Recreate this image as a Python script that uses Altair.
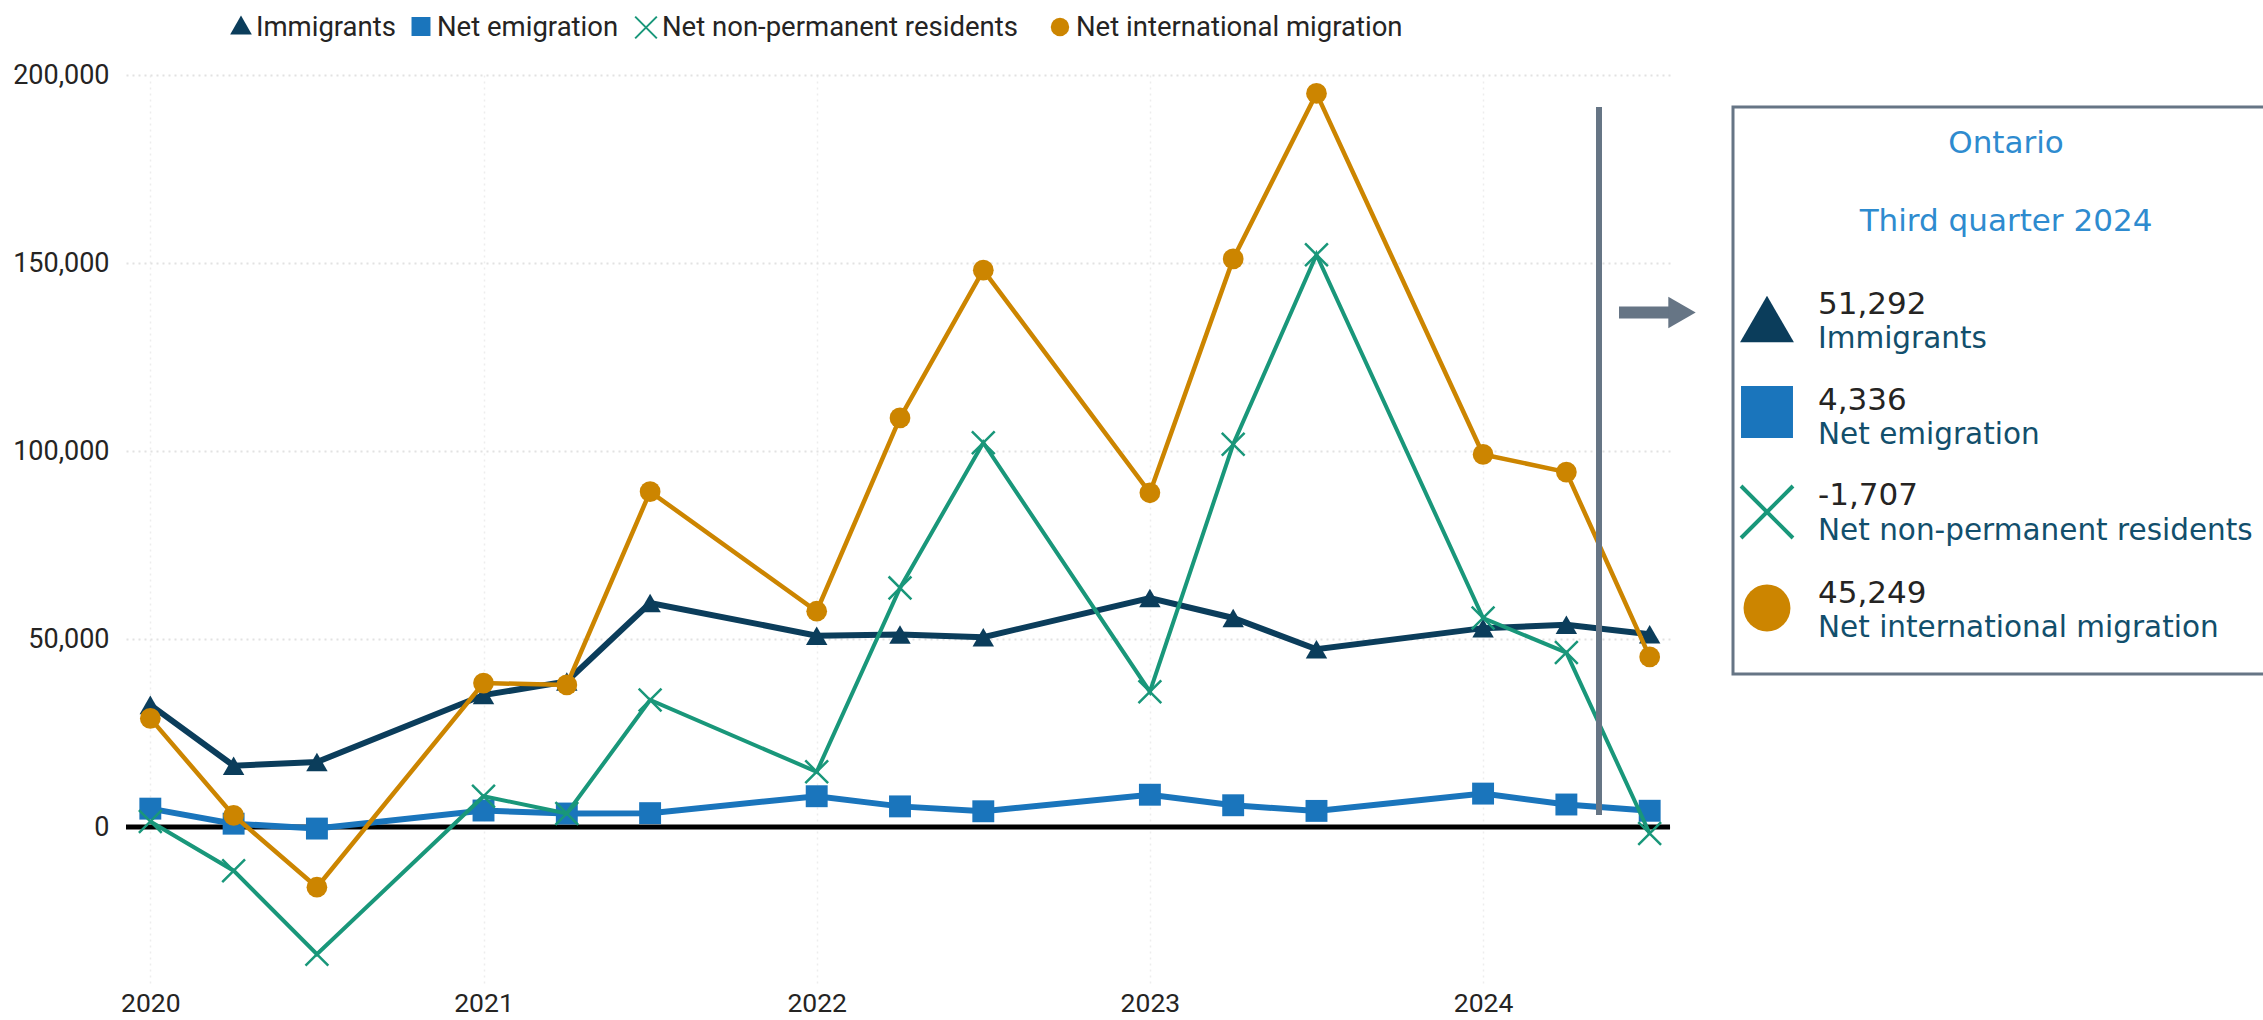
import altair as alt
import pandas as pd

# ---------------- data ----------------
years = [2020, 2020, 2020, 2021, 2021, 2021, 2022, 2022, 2022, 2023, 2023, 2023, 2024, 2024, 2024]
quarters = [1, 2, 3, 1, 2, 3, 1, 2, 3, 1, 2, 3, 1, 2, 3]
year_ticks = [2020, 2021, 2022, 2023, 2024]
y_ticks = [0, 50000, 100000, 150000, 200000]

series_names = ["Immigrants", "Net emigration", "Net non-permanent residents", "Net international migration"]
immigrants = [32500, 16300, 17300, 35100, 38700, 59600, 50900, 51200, 50500, 60900, 55600, 47300, 52900, 53800, 51292]
net_emigration = [4900, 900, -400, 4400, 3600, 3700, 8200, 5500, 4200, 8600, 5800, 4300, 8900, 6000, 4336]
net_npr = [1500, -11600, -33800, 8200, 3600, 33800, 14700, 63600, 102200, 36000, 101800, 152200, 55600, 46400, -1707]
net_intl_migration = [28900, 3100, -16000, 38300, 37800, 89200, 57400, 108800, 148100, 88900, 151100, 195100, 99100, 94400, 45249]

box_title = "Ontario"
box_subtitle = "Third quarter 2024"
latest_values = ["51,292", "4,336", "-1,707", "45,249"]

# ---------------- style ----------------
FONT = "Roboto"
BOX_FONT = "DejaVu Sans"
TXT = "#252423"
C_IMM = "#0B3D5B"
C_EMI = "#1A75BC"
C_NPR = "#19977A"
C_NIM = "#CC8500"
C_GREY = "#667585"
C_BOX_TITLE = "#2E8BCF"
C_BOX_LABEL = "#124F6C"
XSHAPE = "M-1,-1L1,1M-1,1L1,-1"

W, H = 1544, 910

t = [y + (q - 1) / 4 for y, q in zip(years, quarters)]

X = alt.X(
    "t:Q",
    scale=alt.Scale(domain=[2019.927, 2024.561], nice=False, zero=False),
    axis=alt.Axis(
        values=year_ticks, format="d", title=None, domain=False, ticks=False,
        grid=True, gridColor="#EDEDED", gridDash=[2, 4], gridWidth=1.5,
        labelFont=FONT, labelFontSize=26.5, labelColor=TXT, labelPadding=5,
    ),
)
Y = alt.Y(
    "v:Q",
    scale=alt.Scale(domain=[-42000, 200000], nice=False, zero=False),
    axis=alt.Axis(
        values=y_ticks, format=",d", title=None, domain=False, ticks=False,
        grid=True, gridColor="#E2E2E2", gridDash=[2, 4], gridWidth=2,
        labelFont=FONT, labelFontSize=27, labelColor=TXT, labelPadding=17,
    ),
)

layers = []

# zero line
zero_df = pd.DataFrame({"v": [0]})
layers.append(
    alt.Chart(zero_df).mark_rule(color="#000000", strokeWidth=5).encode(
        y=Y, x=alt.value(0), x2=alt.value(W)
    )
)

spec = [
    ("Immigrants", immigrants, C_IMM, 6, "triangle-up", 460, True, 0),
    ("Net emigration", net_emigration, C_EMI, 6, "square", 480, True, 0),
    ("Net international migration", net_intl_migration, C_NIM, 4.5, "circle", 430, True, 0),
    ("Net non-permanent residents", net_npr, C_NPR, 4, XSHAPE, 520, False, 2.5),
]
for name, vals, col, lw, shape, size, filled, sw in spec:
    df = pd.DataFrame({"t": t, "v": vals, "s": name})
    base = alt.Chart(df).encode(x=X, y=Y)
    layers.append(base.mark_line(color=col, strokeWidth=lw))
    if filled:
        layers.append(base.mark_point(shape=shape, size=size, filled=True, color=col, opacity=1, strokeWidth=0))
    else:
        layers.append(base.mark_point(shape=shape, size=size, filled=False, color=col, opacity=1, strokeWidth=sw))

one = pd.DataFrame({"a": [0]})


def txt(x, y, text, size, color, align="left", baseline="alphabetic", font=FONT):
    return alt.Chart(one).mark_text(
        text=text, align=align, baseline=baseline, font=font, fontSize=size, color=color
    ).encode(x=alt.value(x), y=alt.value(y))


def sym(x, y, shape, size, color, filled=True, sw=0):
    return alt.Chart(one).mark_point(
        shape=shape, size=size, filled=filled, color=color, opacity=1, strokeWidth=sw
    ).encode(x=alt.value(x), y=alt.value(y))


# top legend
leg_y = -39
legend_items = [
    (115, -50, 130, "triangle-up", 470, C_IMM, True, 0),
    (295, -48.5, 311, "square", 360, C_EMI, True, 0),
    (520, -47.5, 536, XSHAPE, 470, C_NPR, False, 2),
    (934, -48, 950, "circle", 340, C_NIM, True, 0),
]
for (sx, sy, tx, shape, size, col, filled, sw), name in zip(legend_items, series_names):
    layers.append(sym(sx, sy, shape, size, col, filled, sw))
    layers.append(txt(tx, leg_y, name, 27.5, TXT))

# vertical marker line and arrow
layers.append(
    alt.Chart(one).mark_rule(color=C_GREY, strokeWidth=6).encode(
        x=alt.value(1473), y=alt.value(32), y2=alt.value(740)
    )
)
layers.append(
    alt.Chart(one).mark_rule(color=C_GREY, strokeWidth=12).encode(
        x=alt.value(1493), x2=alt.value(1543), y=alt.value(237.5)
    )
)
layers.append(sym(1556, 237.5, "triangle-right", 1000, C_GREY))

# info box
layers.append(
    alt.Chart(one).mark_rect(fill="white", stroke=C_GREY, strokeWidth=3).encode(
        x=alt.value(1607), x2=alt.value(2170), y=alt.value(32), y2=alt.value(599)
    )
)
layers.append(txt(1880, 69, box_title, 31, C_BOX_TITLE, align="center", baseline="middle", font=BOX_FONT))
layers.append(txt(1880, 147, box_subtitle, 31, C_BOX_TITLE, align="center", baseline="middle", font=BOX_FONT))

box_syms = [
    ("triangle-up", 2900, C_IMM, True, 0, 244),
    ("square", 2700, C_EMI, True, 0, 337),
    (XSHAPE, 2700, C_NPR, False, 4, 437),
    ("circle", 2200, C_NIM, True, 0, 533),
]
num_base = [239, 335, 430, 528]
lab_base = [273, 369, 465, 562]
for (shape, size, col, filled, sw, sy), name, val, nb, lb in zip(box_syms, series_names, latest_values, num_base, lab_base):
    layers.append(sym(1641, sy, shape, size, col, filled, sw))
    layers.append(txt(1692, nb, val, 31, TXT, font=BOX_FONT))
    layers.append(txt(1692, lb, name, 29.5, C_BOX_LABEL, font=BOX_FONT))

chart = (
    alt.layer(*layers)
    .properties(
        width=W,
        height=H,
        padding={"left": 126, "top": 75, "right": 593, "bottom": 35},
        autosize=alt.AutoSizeParams(type="none"),
        background="white",
    )
    .configure_view(stroke="transparent")
)

chart.save("out.html", embed_options={"renderer": "svg", "actions": False})
